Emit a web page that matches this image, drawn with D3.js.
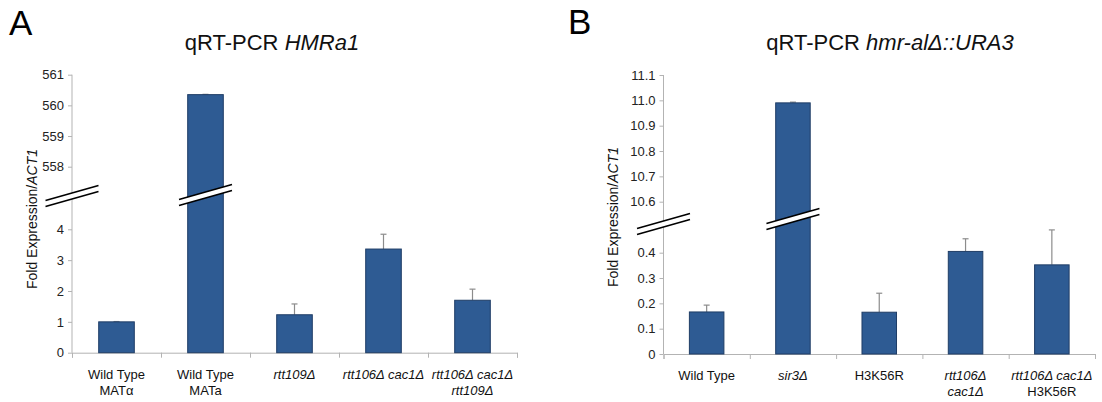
<!DOCTYPE html>
<html>
<head>
<meta charset="utf-8">
<script src="https://cdn.jsdelivr.net/npm/d3@7"></script>
<style>
  body { margin: 0; background: #fff; }
  svg { font-family: "Liberation Sans", Arial, sans-serif; }
</style>
</head>
<body>
<svg width="1102" height="402"></svg>
<script>
// ---- data ----
// panel A : qRT-PCR HMRa1
const labelsA = [["Wild Type", "MATα"], ["Wild Type", "MATa"], ["rtt109Δ"], ["rtt106Δ cac1Δ"], ["rtt106Δ cac1Δ", "rtt109Δ"]];
const italicA = [false, false, true, true, true];
const valuesA = [1.0, 560.35, 1.23, 3.36, 1.70];
const errorsA = [0.01, 0.01, 0.35, 0.48, 0.36];
const lowTicksA = [0, 1, 2, 3, 4];
const highTicksA = [558, 559, 560, 561];

// panel B : qRT-PCR hmr-alΔ::URA3
const labelsB = [["Wild Type"], ["sir3Δ"], ["H3K56R"], ["rtt106Δ", "cac1Δ"], ["rtt106Δ cac1Δ", "H3K56R"]];
const italicB = [[false], [true], [false], [true, true], [true, false]];
const valuesB = [0.166, 10.99, 0.165, 0.405, 0.352];
const errorsB = [0.027, 0.003, 0.075, 0.05, 0.138];
const lowTicksB = [0, 0.1, 0.2, 0.3, 0.4];
const highTicksB = [10.6, 10.7, 10.8, 10.9, 11.0, 11.1];

const svg = d3.select("svg");
const barFill = "#2e5b93", barStroke = "#1f3d66", axisColor = "#b3b3b3";

function drawPanel(o) {
  const g = svg.append("g");

  // split y scale: lower part and upper part of the broken axis
  const yLow = d3.scaleLinear().domain(o.lowDomain).range(o.lowRange);
  const yHigh = d3.scaleLinear().domain(o.highDomain).range(o.highRange);
  const y = v => v >= o.splitAt ? yHigh(v) : yLow(v);

  const x = d3.scaleBand().domain(d3.range(o.values.length)).range([o.x0, o.x1]).padding(0);
  const xEdge = d3.scaleLinear().domain([0, o.values.length]).range([o.x0, o.x1]);
  const bw = x.bandwidth() * 0.4;

  // y axis line
  g.append("line")
    .attr("x1", o.x0).attr("x2", o.x0)
    .attr("y1", yHigh(o.highDomain[1])).attr("y2", yLow(0))
    .attr("stroke", axisColor);

  // y ticks (two axes)
  [[yLow, o.lowTicks, o.lowFmt], [yHigh, o.highTicks, o.highFmt]].forEach(([sc, tv, fmt]) => {
    const ax = g.append("g")
      .attr("transform", `translate(${o.x0},0)`)
      .call(d3.axisLeft(sc).tickValues(tv).tickSize(4).tickPadding(4).tickFormat(fmt));
    ax.select(".domain").remove();
    ax.selectAll(".tick line").attr("stroke", axisColor);
    ax.selectAll(".tick text").attr("font-size", 13).attr("fill", "#222")
      .attr("font-family", "Liberation Sans, Arial, sans-serif");
  });

  // x axis
  const xa = g.append("g")
    .attr("transform", `translate(0,${yLow(0)})`)
    .call(d3.axisBottom(xEdge).tickValues(d3.range(o.values.length + 1)).tickSize(5).tickFormat(""));
  xa.selectAll("path, line").attr("stroke", axisColor);

  // error bars
  const eb = g.append("g").selectAll("g").data(o.values).join("g");
  eb.append("line")
    .attr("x1", (d, i) => x(i) + x.bandwidth() / 2).attr("x2", (d, i) => x(i) + x.bandwidth() / 2)
    .attr("y1", d => y(d)).attr("y2", (d, i) => y(d + o.errors[i]))
    .attr("stroke", "#8c8c8c").attr("stroke-width", 1.2);
  eb.append("line")
    .attr("x1", (d, i) => x(i) + x.bandwidth() / 2 - 3).attr("x2", (d, i) => x(i) + x.bandwidth() / 2 + 3)
    .attr("y1", (d, i) => y(d + o.errors[i])).attr("y2", (d, i) => y(d + o.errors[i]))
    .attr("stroke", "#8c8c8c").attr("stroke-width", 1.2);

  // bars
  g.append("g").selectAll("rect").data(o.values).join("rect")
    .attr("x", (d, i) => x(i) + (x.bandwidth() - bw) / 2)
    .attr("width", bw)
    .attr("y", d => y(d))
    .attr("height", d => yLow(0) - y(d))
    .attr("fill", barFill).attr("stroke", barStroke).attr("stroke-width", 1);

  // break marks: on the axis and on the tall bar
  const tall = o.values.indexOf(d3.max(o.values));
  const breaks = [[o.x0, o.breakAxisY], [x(tall) + x.bandwidth() / 2, o.breakBarY]];
  const hw = 26.5, rise = 7.5, gap = 6;
  breaks.forEach(([cx, cy]) => {
    const bg = g.append("g");
    bg.append("polygon")
      .attr("points", [
        [cx - hw, cy + rise - gap / 2], [cx + hw, cy - rise - gap / 2],
        [cx + hw, cy - rise + gap / 2], [cx - hw, cy + rise + gap / 2]
      ].map(p => p.join(",")).join(" "))
      .attr("fill", "#fff");
    [-gap / 2, gap / 2].forEach(off => {
      bg.append("line")
        .attr("x1", cx - hw).attr("y1", cy + rise + off)
        .attr("x2", cx + hw).attr("y2", cy - rise + off)
        .attr("stroke", "#000").attr("stroke-width", 1.6);
    });
  });

  // x labels
  o.labels.forEach((lines, i) => {
    const t = g.append("text")
      .attr("x", x(i) + x.bandwidth() / 2)
      .attr("y", yLow(0) + 26)
      .attr("text-anchor", "middle")
      .attr("font-size", 13).attr("fill", "#111");
    lines.forEach((ln, j) => {
      t.append("tspan")
        .attr("x", x(i) + x.bandwidth() / 2)
        .attr("dy", j === 0 ? 0 : 16)
        .attr("font-style", o.italic(i, j) ? "italic" : "normal")
        .text(ln);
    });
  });

  // y axis title
  const yt = g.append("text")
    .attr("transform", `translate(${o.yTitleX},${o.yTitleY}) rotate(-90)`)
    .attr("text-anchor", "middle")
    .attr("font-size", 14).attr("fill", "#111");
  yt.append("tspan").text("Fold Expression/");
  yt.append("tspan").attr("font-style", "italic").text("ACT1");

  // chart title
  const tt = g.append("text")
    .attr("x", o.titleX).attr("y", 50)
    .attr("text-anchor", "middle")
    .attr("font-size", 22).attr("fill", "#111");
  tt.append("tspan").text("qRT-PCR ");
  tt.append("tspan").attr("font-style", "italic").text(o.titleItalic);

  // panel letter
  g.append("text")
    .attr("x", o.letterX).attr("y", o.letterY)
    .attr("font-size", 35).attr("fill", "#000")
    .text(o.letter);
}

drawPanel({
  values: valuesA, errors: errorsA, labels: labelsA,
  italic: (i, j) => italicA[i],
  lowDomain: [0, 4], lowRange: [352.7, 229.3],
  highDomain: [558, 561], highRange: [166.7, 74.7],
  splitAt: 100, lowTicks: lowTicksA, highTicks: highTicksA,
  lowFmt: d3.format("d"), highFmt: d3.format("d"),
  x0: 72, x1: 517,
  breakAxisY: 196, breakBarY: 195,
  yTitleX: 37, yTitleY: 219,
  titleX: 272, titleItalic: "HMRa1",
  letter: "A", letterX: 9, letterY: 35
});

drawPanel({
  values: valuesB, errors: errorsB, labels: labelsB,
  italic: (i, j) => italicB[i][j],
  lowDomain: [0, 0.4], lowRange: [354, 252.7],
  highDomain: [10.6, 11.1], highRange: [201.7, 75],
  splitAt: 5, lowTicks: lowTicksB, highTicks: highTicksB,
  lowFmt: d => d === 0 ? "0" : d3.format(".1f")(d), highFmt: d3.format(".1f"),
  x0: 663.5, x1: 1095,
  breakAxisY: 224, breakBarY: 219,
  yTitleX: 618, yTitleY: 217,
  titleX: 890, titleItalic: "hmr-alΔ::URA3",
  letter: "B", letterX: 568, letterY: 34
});
</script>
</body>
</html>
